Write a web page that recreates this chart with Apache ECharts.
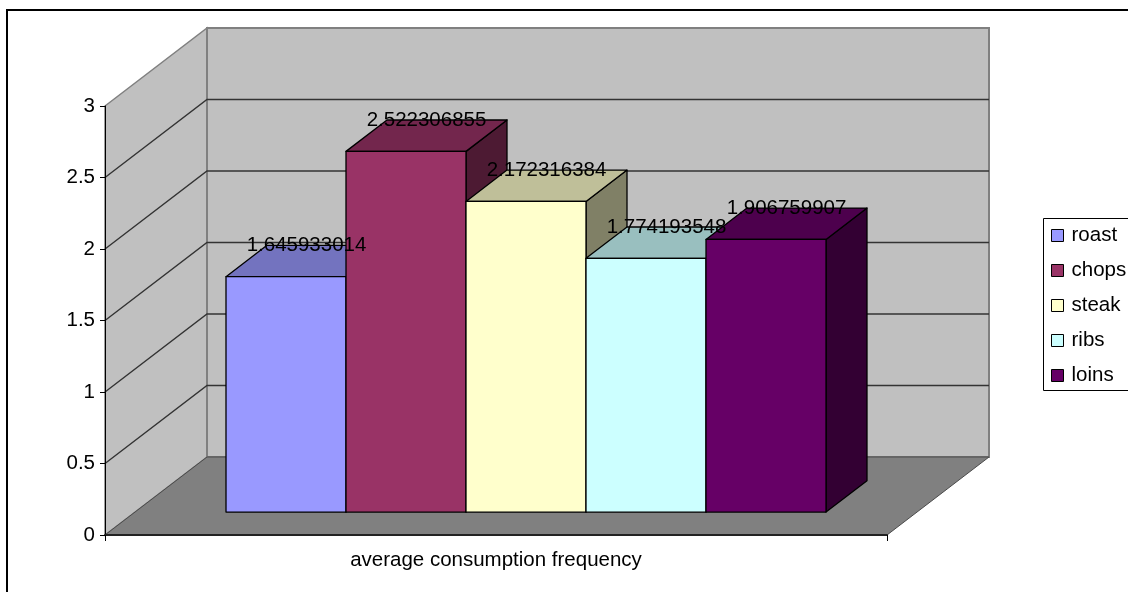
<!DOCTYPE html>
<html>
<head>
<meta charset="utf-8">
<script src="https://cdn.jsdelivr.net/npm/echarts@6/dist/echarts.min.js"></script>
<style>
  html, body { margin: 0; padding: 0; background: #fff; }
  #chart { width: 1128px; height: 592px; }
</style>
</head>
<body>
<div id="chart"></div>
<script>
// Chart data
const categories = ['average consumption frequency'];
const seriesNames = ['roast', 'chops', 'steak', 'ribs', 'loins'];
const seriesValues = [1.645933014, 2.522306855, 2.172316384, 1.774193548, 1.906759907];
const seriesColors = ['#9999FF', '#993366', '#FFFFCC', '#CCFFFF', '#660066'];
const yTicks = [0, 0.5, 1, 1.5, 2, 2.5, 3];

// 3D look: depth offsets of the box and the bars
const FONT = '"Liberation Sans", Arial, sans-serif';
const FONT_SIZE = 20.5;
const DEPTH_X = 102, DEPTH_Y = -78;
const BAR_FRONT = 30 / 102;
const BAR_DEPTH = 41 / 102;
const BAR_FRAC = 120 / 782;

function shade(hex, k) {
  const n = parseInt(hex.slice(1), 16);
  const r = Math.round(((n >> 16) & 255) * k);
  const g = Math.round(((n >> 8) & 255) * k);
  const b = Math.round((n & 255) * k);
  return 'rgb(' + r + ',' + g + ',' + b + ')';
}

// Side wall, back wall, floor and gridlines
function renderWalls(params, api) {
  const cs = params.coordSys;
  const yAt = v => api.coord([0, v])[1];
  const x0 = cs.x, x1 = cs.x + cs.width;
  const yb = yAt(yTicks[0]);
  const yt = yAt(yTicks[yTicks.length - 1]);
  const children = [
    {
      type: 'polygon',
      shape: { points: [[x0, yt], [x0 + DEPTH_X, yt + DEPTH_Y], [x0 + DEPTH_X, yb + DEPTH_Y], [x0, yb]] },
      style: { fill: '#C0C0C0', stroke: '#808080', lineWidth: 1.5 }
    },
    {
      type: 'rect',
      shape: { x: x0 + DEPTH_X, y: yt + DEPTH_Y, width: x1 - x0, height: yb - yt },
      style: { fill: '#C0C0C0', stroke: '#808080', lineWidth: 2 }
    },
    {
      type: 'polygon',
      shape: { points: [[x0, yb], [x1, yb], [x1 + DEPTH_X, yb + DEPTH_Y], [x0 + DEPTH_X, yb + DEPTH_Y]] },
      style: { fill: '#808080', stroke: '#4a4a4a', lineWidth: 1 }
    }
  ];
  yTicks.slice(1, -1).forEach(t => {
    const y = yAt(t);
    children.push({
      type: 'polyline',
      shape: { points: [[x0, y], [x0 + DEPTH_X, y + DEPTH_Y], [x1 + DEPTH_X, y + DEPTH_Y]] },
      style: { fill: null, stroke: '#333', lineWidth: 1.4 }
    });
  });
  return { type: 'group', children: children };
}

// One 3D column per series, placed side by side in the category band
function makeBarRenderer(i) {
  return function (params, api) {
    const cs = params.coordSys;
    const v = api.value(1);
    const band = cs.width / categories.length;
    const top = api.coord([api.value(0), v]);
    const base = api.coord([api.value(0), 0]);
    const w = band * BAR_FRAC;
    const ox = DEPTH_X * BAR_FRONT, oy = DEPTH_Y * BAR_FRONT;
    const bx = DEPTH_X * BAR_DEPTH, by = DEPTH_Y * BAR_DEPTH;
    const xl = top[0] - w * seriesNames.length / 2 + i * w + ox;
    const xr = xl + w;
    const yt = top[1] + oy;
    const yb = base[1] + oy;
    const c = seriesColors[i];
    const edge = { stroke: '#000', lineWidth: 1.3, lineJoin: 'round' };
    return {
      type: 'group',
      children: [
        {
          type: 'polygon',
          shape: { points: [[xr, yt], [xr + bx, yt + by], [xr + bx, yb + by], [xr, yb]] },
          style: Object.assign({ fill: shade(c, 0.5) }, edge)
        },
        {
          type: 'polygon',
          shape: { points: [[xl, yt], [xr, yt], [xr + bx, yt + by], [xl + bx, yt + by]] },
          style: Object.assign({ fill: shade(c, 0.75) }, edge)
        },
        {
          type: 'rect',
          shape: { x: xl, y: yt, width: w, height: yb - yt },
          style: Object.assign({ fill: c }, edge)
        },
        {
          type: 'text',
          z2: 100,
          style: {
            text: String(v),
            x: (xl + xr) / 2 + bx / 2,
            y: yt + by,
            align: 'center',
            verticalAlign: 'middle',
            fontFamily: FONT,
            fontSize: FONT_SIZE,
            fill: '#000'
          }
        }
      ]
    };
  };
}

const series = [{
  type: 'custom',
  name: 'walls',
  z: 1,
  silent: true,
  renderItem: renderWalls,
  data: [[0, 0]],
  encode: { x: 0, y: 1 }
}];
seriesNames.forEach((name, i) => {
  series.push({
    type: 'custom',
    name: name,
    z: 2,
    renderItem: makeBarRenderer(i),
    itemStyle: { color: seriesColors[i], borderColor: '#000', borderWidth: 1 },
    data: [[0, seriesValues[i]]],
    encode: { x: 0, y: 1 }
  });
});

const chart = echarts.init(document.getElementById('chart'), null, { renderer: 'canvas' });
chart.setOption({
  animation: false,
  backgroundColor: '#fff',
  graphic: [
    {
      // chart area frame, running past the right and bottom edges
      type: 'rect',
      silent: true,
      shape: { x: 7, y: 10, width: 1200, height: 700 },
      style: { fill: 'none', stroke: '#000', lineWidth: 2 }
    },
    {
      // legend frame, running past the right edge
      type: 'rect',
      silent: true,
      shape: { x: 1043.5, y: 218.5, width: 200, height: 172 },
      style: { fill: 'none', stroke: '#000', lineWidth: 1 }
    }
  ],
  grid: { left: 105, top: 106, width: 782, height: 429, containLabel: false },
  xAxis: {
    type: 'category',
    data: categories,
    z: 5,
    axisLine: { lineStyle: { color: '#222', width: 2 } },
    axisTick: { show: true, length: 6, lineStyle: { color: '#000' } },
    axisLabel: { margin: 15, color: '#000', fontFamily: FONT, fontSize: FONT_SIZE },
    splitLine: { show: false }
  },
  yAxis: {
    type: 'value',
    min: yTicks[0],
    max: yTicks[yTicks.length - 1],
    interval: 0.5,
    z: 5,
    axisLine: { show: true, lineStyle: { color: '#000', width: 1 } },
    axisTick: { show: true, length: 5, lineStyle: { color: '#000' } },
    axisLabel: { margin: 10, color: '#000', fontFamily: FONT, fontSize: FONT_SIZE },
    splitLine: { show: false }
  },
  legend: {
    data: seriesNames,
    orient: 'vertical',
    left: 1043,
    top: 218,
    padding: [7, 0, 7, 8],
    itemWidth: 12,
    itemHeight: 12,
    itemGap: 14,
    icon: 'rect',
    borderWidth: 0,
    itemStyle: { borderColor: '#000', borderWidth: 1 },
    textStyle: { color: '#000', fontFamily: FONT, fontSize: FONT_SIZE, padding: [0, 0, 0, 3] }
  },
  series: series
});
</script>
</body>
</html>
